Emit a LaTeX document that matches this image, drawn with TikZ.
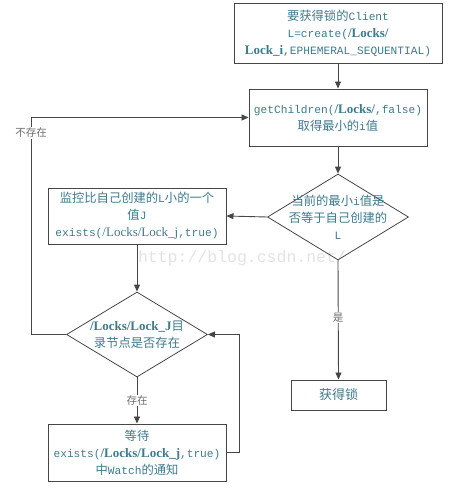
\documentclass[tikz,border=0pt]{standalone}
\usepackage{fontspec}
\usetikzlibrary{shapes.geometric,arrows.meta}
\newfontfamily\zhf{Noto Sans CJK SC}
\newfontfamily\monof{Liberation Mono}
\newfontfamily\serf{Liberation Serif}
\newcommand{\Z}[1]{{\zhf\fontsize{12.3}{18}\selectfont #1}}
\newcommand{\M}[1]{{\monof\fontsize{11.2}{18}\selectfont #1}}
\newcommand{\B}[1]{{\serf\bfseries\fontsize{13}{18}\selectfont #1}}
\newcommand{\R}[1]{{\serf\fontsize{13}{18}\selectfont #1}}
\definecolor{txt}{RGB}{61,122,140}
\definecolor{edge}{RGB}{70,70,70}
\tikzset{
  box/.style={draw=edge, line width=0.95pt, rectangle, inner sep=0pt, align=center, text=txt, font=\fontsize{10}{17}\selectfont},
  dia/.style={draw=edge, line width=0.8pt, diamond, inner sep=0pt},
  conn/.style={draw=edge, line width=0.9pt, -{Triangle[length=7pt,width=6pt]}},
  lab/.style={fill=white, inner sep=1pt, text=edge!80, font=\zhf\fontsize{10.5}{11}\selectfont},
  dtext/.style={text=txt, align=center, font=\fontsize{10}{17}\selectfont}
}
\begin{document}
\begin{tikzpicture}[x=1pt,y=-1pt]
\useasboundingbox (0,0) rectangle (466,492);
\node[text=gray!22, font=\monof\fontsize{16.5}{18}\selectfont] (wm) at (242,258) {http://blog.csdn.net/};
\node[box, minimum width=208pt, minimum height=60pt] (b1) at (338,33)
  {\Z{要获得锁的}\M{Client}\\\M{L=create(}\B{/Locks/}\\\B{Lock\_i}\M{,EPHEMERAL\_SEQUENTIAL)}};
\node[box, minimum width=178pt, minimum height=57pt] (b2) at (338,117.5)
  {\M{getChildren(}\B{/Locks/}\M{,false)}\\\Z{取得最小的}\M{i}\Z{值}};
\node[dia, minimum width=141pt, minimum height=86pt] (d1) at (338,217) {};
\node[dtext] (d1t) at (338,217) {\Z{当前的最小}\M{i}\Z{值是}\\\Z{否等于自己创建的}\\\M{L}};
\node[box, minimum width=178pt, minimum height=56pt] (b3) at (137,216)
  {\Z{监控比自己创建的}\M{L}\Z{小的一个}\\\Z{值}\M{J}\\\M{exists(}\R{/Locks/Lock\_j}\M{,true)}};
\node[dia, minimum width=141pt, minimum height=85pt] (d2) at (137,334.5) {};
\node[dtext] (d2t) at (137,334.5) {\B{/Locks/Lock\_J}\Z{目}\\\Z{录节点是否存在}};
\node[box, minimum width=178pt, minimum height=57pt] (b4) at (137,452.5)
  {\Z{等待}\\\M{exists(}\B{/Locks/Lock\_j}\M{,true)}\\\Z{中}\M{Watch}\Z{的通知}};
\node[box, minimum width=95pt, minimum height=30pt] (b5) at (338.5,395)
  {\Z{\fontsize{13}{14}\selectfont 获得锁}};
\coordinate (lc) at (31,334.5);
\coordinate (rc) at (239,452.5);
\draw[conn] (b1) -- (b2);
\draw[conn] (b2) -- (d1);
\draw[conn] (d1.west) -- (b3.east);
\draw[conn] (d1.south) -- node[lab, pos=0.48] (l1) {是} (b5.north);
\draw[conn] (b3.south) -- (d2.north);
\draw[conn] (d2.south) -- node[lab, pos=0.5] (l2) {存在} (b4.north);
\draw[conn] (d2.west) -- (lc) |- (b2.west);
\node[lab] (l3) at (31,133) {不存在};
\draw[conn] (b4.east) -- (rc) |- (d2.east);
\end{tikzpicture}
\end{document}
